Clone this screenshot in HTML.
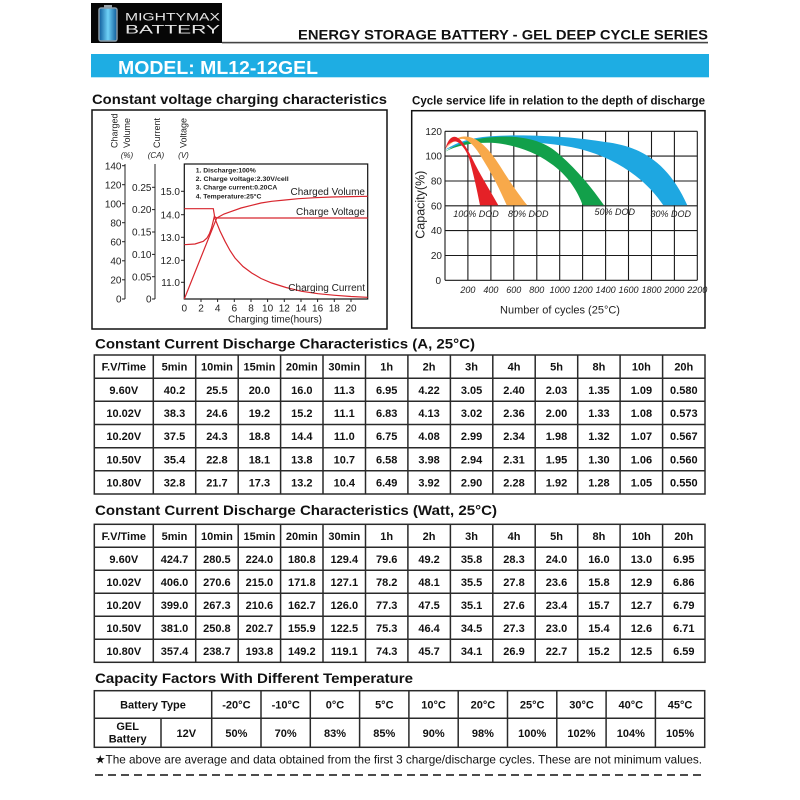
<!DOCTYPE html>
<html>
<head>
<meta charset="utf-8">
<style>
html,body{margin:0;padding:0;background:#fff;}
svg{display:block;}
</style>
</head>
<body>
<svg width="800" height="800" viewBox="0 0 800 800" xmlns="http://www.w3.org/2000/svg" font-family="'Liberation Sans', Arial, sans-serif">
<defs>
<linearGradient id="bg" x1="0" x2="1" y1="0" y2="0">
<stop offset="0" stop-color="#0d5a9a"/>
<stop offset="0.5" stop-color="#6fd2f8"/>
<stop offset="1" stop-color="#0d5a9a"/>
</linearGradient>
</defs>
<rect x="0" y="0" width="800" height="800" fill="#fff"/>

<!-- HEADER -->
<rect x="91" y="3" width="131" height="40" fill="#060606"/>
<rect x="104" y="5" width="8" height="3" fill="#9aa4aa"/>
<rect x="99" y="8" width="18" height="33" rx="2" fill="url(#bg)" stroke="#8a9aa5" stroke-width="1.5"/>
<text x="125" y="20.7" font-size="11" fill="#e6e6e6" textLength="95" lengthAdjust="spacingAndGlyphs">MIGHTYMAX</text>
<text x="125" y="33.5" font-size="11.5" fill="#e6e6e6" textLength="95" lengthAdjust="spacingAndGlyphs">BATTERY</text>
<text x="298" y="39.3" font-size="14" font-weight="bold" fill="#111" textLength="410" lengthAdjust="spacingAndGlyphs">ENERGY STORAGE BATTERY - GEL DEEP CYCLE SERIES</text>
<rect x="222" y="41.8" width="486" height="1.6" fill="#444"/>
<rect x="91" y="54" width="618" height="23.3" fill="#1eade3"/>
<text x="118" y="74" font-size="18" font-weight="bold" fill="#fff" textLength="200" lengthAdjust="spacingAndGlyphs">MODEL: ML12-12GEL</text>

<!-- LEFT CHART -->
<text x="92" y="104" font-size="14" font-weight="bold" fill="#111" textLength="295" lengthAdjust="spacingAndGlyphs">Constant voltage charging characteristics</text>
<rect x="92" y="110" width="295" height="219" fill="none" stroke="#111" stroke-width="1.5"/>
<g font-size="9" fill="#222">
<text transform="translate(117.5,148) rotate(-90)">Charged</text>
<text transform="translate(130,148) rotate(-90)">Volume</text>
<text transform="translate(160,148) rotate(-90)">Current</text>
<text transform="translate(186.5,148) rotate(-90)">Voltage</text>
</g>
<g font-size="8" font-style="italic" fill="#222" text-anchor="middle">
<text x="127" y="158">(%)</text>
<text x="156" y="158">(CA)</text>
<text x="183.5" y="158">(V)</text>
</g>
<g stroke="#222" stroke-width="1">
<line x1="125" y1="164" x2="125" y2="299"/>
<line x1="122" y1="165.7" x2="125" y2="165.7"/>
<line x1="122" y1="184.7" x2="125" y2="184.7"/>
<line x1="122" y1="203.7" x2="125" y2="203.7"/>
<line x1="122" y1="222.7" x2="125" y2="222.7"/>
<line x1="122" y1="241.7" x2="125" y2="241.7"/>
<line x1="122" y1="260.8" x2="125" y2="260.8"/>
<line x1="122" y1="279.8" x2="125" y2="279.8"/>
<line x1="122" y1="299" x2="125" y2="299"/>
<line x1="155" y1="164" x2="155" y2="299"/>
<line x1="152" y1="187.3" x2="155" y2="187.3"/>
<line x1="152" y1="209.6" x2="155" y2="209.6"/>
<line x1="152" y1="232" x2="155" y2="232"/>
<line x1="152" y1="254.4" x2="155" y2="254.4"/>
<line x1="152" y1="276.7" x2="155" y2="276.7"/>
<line x1="152" y1="299" x2="155" y2="299"/>
<line x1="181" y1="191.3" x2="184.3" y2="191.3"/>
<line x1="181" y1="214.7" x2="184.3" y2="214.7"/>
<line x1="181" y1="237.3" x2="184.3" y2="237.3"/>
<line x1="181" y1="260.3" x2="184.3" y2="260.3"/>
<line x1="181" y1="282.3" x2="184.3" y2="282.3"/>
</g>
<g font-size="10" fill="#222" text-anchor="end">
<text x="121.5" y="169.3">140</text>
<text x="121.5" y="188.3">120</text>
<text x="121.5" y="207.3">100</text>
<text x="121.5" y="226.3">80</text>
<text x="121.5" y="245.3">60</text>
<text x="121.5" y="264.4">40</text>
<text x="121.5" y="283.4">20</text>
<text x="121.5" y="302.6">0</text>
<text x="151.5" y="190.9">0.25</text>
<text x="151.5" y="213.2">0.20</text>
<text x="151.5" y="235.6">0.15</text>
<text x="151.5" y="258">0.10</text>
<text x="151.5" y="280.3">0.05</text>
<text x="151.5" y="302.6">0</text>
<text x="180" y="194.9">15.0</text>
<text x="180" y="218.3">14.0</text>
<text x="180" y="240.9">13.0</text>
<text x="180" y="263.9">12.0</text>
<text x="180" y="285.9">11.0</text>
</g>
<rect x="184.3" y="164" width="183.4" height="135" fill="none" stroke="#111" stroke-width="1.2"/>
<g stroke="#222" stroke-width="1">
<line x1="201" y1="299" x2="201" y2="302"/>
<line x1="217.6" y1="299" x2="217.6" y2="302"/>
<line x1="234.3" y1="299" x2="234.3" y2="302"/>
<line x1="251" y1="299" x2="251" y2="302"/>
<line x1="267.6" y1="299" x2="267.6" y2="302"/>
<line x1="284.3" y1="299" x2="284.3" y2="302"/>
<line x1="301" y1="299" x2="301" y2="302"/>
<line x1="317.6" y1="299" x2="317.6" y2="302"/>
<line x1="334.3" y1="299" x2="334.3" y2="302"/>
<line x1="351" y1="299" x2="351" y2="302"/>
</g>
<g font-size="10" fill="#222" text-anchor="middle">
<text x="184.3" y="311.5">0</text>
<text x="201" y="311.5">2</text>
<text x="217.6" y="311.5">4</text>
<text x="234.3" y="311.5">6</text>
<text x="251" y="311.5">8</text>
<text x="267.6" y="311.5">10</text>
<text x="284.3" y="311.5">12</text>
<text x="301" y="311.5">14</text>
<text x="317.6" y="311.5">16</text>
<text x="334.3" y="311.5">18</text>
<text x="351" y="311.5">20</text>
<text x="275" y="322.5">Charging time(hours)</text>
</g>
<g font-size="6.8" font-weight="bold" fill="#222">
<text x="195.7" y="172.5">1. Discharge:100%</text>
<text x="195.7" y="181.2" textLength="93" lengthAdjust="spacingAndGlyphs">2. Charge voltage:2.30V/cell</text>
<text x="195.7" y="189.6">3. Charge current:0.20CA</text>
<text x="195.7" y="198.6">4. Temperature:25°C</text>
</g>
<g fill="none" stroke="#d8262e" stroke-width="1.2">
<polyline points="184.3,208.7 213.3,208.7 215,218.7 220,231 225,241.3 230,250.5 235,258 243,266.5 251.7,273 261,278.5 271.7,283 286,287.5 301.7,291.3 318,293.7 335,295.3 351,296.5 367.7,297.3"/>
<polyline points="184.3,244.7 195,244 203.3,241.3 207,238 209.5,233.5 211.5,228 213,222 214.3,216.5 216.7,218 367.7,218"/>
<polyline points="184.3,299 216.7,218 224,214 231.7,211.3 241,208 251.7,205.3 261,203 271.7,201.3 285,200 298.3,198.7 315,197.7 331.7,197 350,196.6 367.7,196.3"/>
</g>
<g font-size="10" fill="#222" text-anchor="end">
<text x="365" y="194.8">Charged Volume</text>
<text x="365" y="214.8">Charge Voltage</text>
<text x="365" y="290.8">Charging Current</text>
</g>

<!-- RIGHT CHART -->
<text x="412" y="104.5" font-size="12" font-weight="bold" fill="#111" textLength="293" lengthAdjust="spacingAndGlyphs">Cycle service life in relation to the depth of discharge</text>
<rect x="411.7" y="110.7" width="293.3" height="217.3" fill="none" stroke="#111" stroke-width="1.5"/>
<g stroke="#1a1a1a" stroke-width="1.1">
<line x1="445" y1="131.3" x2="697.3" y2="131.3"/>
<line x1="445" y1="156.1" x2="697.3" y2="156.1"/>
<line x1="445" y1="181" x2="697.3" y2="181"/>
<line x1="445" y1="205.8" x2="697.3" y2="205.8"/>
<line x1="445" y1="230.6" x2="697.3" y2="230.6"/>
<line x1="445" y1="255.5" x2="697.3" y2="255.5"/>
<line x1="445" y1="280.3" x2="697.3" y2="280.3"/>
<line x1="445" y1="131.3" x2="445" y2="280.3"/>
<line x1="467.9" y1="131.3" x2="467.9" y2="280.3"/>
<line x1="490.9" y1="131.3" x2="490.9" y2="280.3"/>
<line x1="513.8" y1="131.3" x2="513.8" y2="280.3"/>
<line x1="536.8" y1="131.3" x2="536.8" y2="280.3"/>
<line x1="559.7" y1="131.3" x2="559.7" y2="280.3"/>
<line x1="582.6" y1="131.3" x2="582.6" y2="280.3"/>
<line x1="605.6" y1="131.3" x2="605.6" y2="280.3"/>
<line x1="628.5" y1="131.3" x2="628.5" y2="280.3"/>
<line x1="651.5" y1="131.3" x2="651.5" y2="280.3"/>
<line x1="674.4" y1="131.3" x2="674.4" y2="280.3"/>
<line x1="697.3" y1="131.3" x2="697.3" y2="280.3"/>
</g>
<path fill="#1ea7e1" d="M445,150 C458,141 475,136.5 500,135.7 C535,134.5 575,137 605,142 C640,146 668,162 687.3,205.3 L663.3,205.3 C645,178 615,158 580,149 C550,142 510,140.5 485,141.5 C470,142.5 455,146 445,150 Z"/>
<path fill="#12a04a" d="M445,151.7 C458,143 475,137.5 500,136.7 C525,136 545,141 560,155 C578,171 592,188 604,205.3 L582.7,205.3 C578,192 568,175 550,163 C535,152 515,145 495,143 C475,142 458,145 445,151.7 Z"/>
<path fill="#f8a94a" d="M445,150.5 C450,142 456,137 464,136.5 C478,136 490,150 500,166 C510,182 519,195 527.3,205.3 L506.7,205.3 C500,190 493,176 485,163 C478,151 472,142 464,139 C457,138 450,143 445,150.5 Z"/>
<path fill="#e52127" d="M445,150 C447,142 450,137 454,136.7 C460,136.5 466,146 472,158 C480,175 490,190 498.3,205.3 L480,205.3 C477,190 473,172 469,158 C466,150 461,143 456,141.5 C451,141 447,145 445,150 Z"/>
<g font-size="10" fill="#222" text-anchor="end">
<text x="442" y="134.8">120</text>
<text x="442" y="159.6">100</text>
<text x="442" y="184.5">80</text>
<text x="442" y="209.3">60</text>
<text x="442" y="234.1">40</text>
<text x="442" y="259">20</text>
<text x="441" y="284">0</text>
</g>
<g font-size="9" font-style="italic" fill="#222" text-anchor="middle">
<text x="467.9" y="293">200</text>
<text x="490.9" y="293">400</text>
<text x="513.8" y="293">600</text>
<text x="536.8" y="293">800</text>
<text x="559.7" y="293">1000</text>
<text x="582.6" y="293">1200</text>
<text x="605.6" y="293">1400</text>
<text x="628.5" y="293">1600</text>
<text x="651.5" y="293">1800</text>
<text x="674.4" y="293">2000</text>
<text x="697.3" y="293">2200</text>
</g>
<g font-size="9" font-style="italic" fill="#222" text-anchor="middle">
<text x="476" y="217">100% DOD</text>
<text x="528.3" y="217">80% DOD</text>
<text x="614.7" y="215">50% DOD</text>
<text x="670.8" y="217">30% DOD</text>
</g>
<text transform="translate(424.5,204.7) rotate(-90)" text-anchor="middle" font-size="12.5" fill="#222">Capacity(%)</text>
<text x="560" y="313.5" text-anchor="middle" font-size="11" fill="#222">Number of cycles (25°C)</text>

<!-- TABLE 1 -->
<text x="95" y="348.5" font-size="14" font-weight="bold" fill="#111" textLength="380" lengthAdjust="spacingAndGlyphs">Constant Current Discharge Characteristics (A, 25°C)</text>
<g stroke="#2a2a2a" stroke-width="1.5" fill="none">
<rect x="94.3" y="355" width="610.7" height="139"/>
<path d="M94.3 378.2H705M94.3 401.3H705M94.3 424.5H705M94.3 447.7H705M94.3 470.8H705
M153.3 355V494M195.7 355V494M238.2 355V494M280.6 355V494M323 355V494M365.5 355V494M407.9 355V494M450.4 355V494M492.8 355V494M535.2 355V494M577.7 355V494M620.1 355V494M662.6 355V494"/>
</g>
<g font-size="11" font-weight="bold" fill="#111" text-anchor="middle">
<text x="123.8" y="370.6">F.V/Time</text><text x="174.5" y="370.6">5min</text><text x="216.9" y="370.6">10min</text><text x="259.4" y="370.6">15min</text><text x="301.8" y="370.6">20min</text><text x="344.3" y="370.6">30min</text><text x="386.7" y="370.6">1h</text><text x="429.1" y="370.6">2h</text><text x="471.6" y="370.6">3h</text><text x="514" y="370.6">4h</text><text x="556.5" y="370.6">5h</text><text x="598.9" y="370.6">8h</text><text x="641.4" y="370.6">10h</text><text x="683.8" y="370.6">20h</text>

<text x="123.8" y="393.8">9.60V</text><text x="174.5" y="393.8">40.2</text><text x="216.9" y="393.8">25.5</text><text x="259.4" y="393.8">20.0</text><text x="301.8" y="393.8">16.0</text><text x="344.3" y="393.8">11.3</text><text x="386.7" y="393.8">6.95</text><text x="429.1" y="393.8">4.22</text><text x="471.6" y="393.8">3.05</text><text x="514" y="393.8">2.40</text><text x="556.5" y="393.8">2.03</text><text x="598.9" y="393.8">1.35</text><text x="641.4" y="393.8">1.09</text><text x="683.8" y="393.8">0.580</text>

<text x="123.8" y="416.9">10.02V</text><text x="174.5" y="416.9">38.3</text><text x="216.9" y="416.9">24.6</text><text x="259.4" y="416.9">19.2</text><text x="301.8" y="416.9">15.2</text><text x="344.3" y="416.9">11.1</text><text x="386.7" y="416.9">6.83</text><text x="429.1" y="416.9">4.13</text><text x="471.6" y="416.9">3.02</text><text x="514" y="416.9">2.36</text><text x="556.5" y="416.9">2.00</text><text x="598.9" y="416.9">1.33</text><text x="641.4" y="416.9">1.08</text><text x="683.8" y="416.9">0.573</text>

<text x="123.8" y="440.1">10.20V</text><text x="174.5" y="440.1">37.5</text><text x="216.9" y="440.1">24.3</text><text x="259.4" y="440.1">18.8</text><text x="301.8" y="440.1">14.4</text><text x="344.3" y="440.1">11.0</text><text x="386.7" y="440.1">6.75</text><text x="429.1" y="440.1">4.08</text><text x="471.6" y="440.1">2.99</text><text x="514" y="440.1">2.34</text><text x="556.5" y="440.1">1.98</text><text x="598.9" y="440.1">1.32</text><text x="641.4" y="440.1">1.07</text><text x="683.8" y="440.1">0.567</text>

<text x="123.8" y="463.3">10.50V</text><text x="174.5" y="463.3">35.4</text><text x="216.9" y="463.3">22.8</text><text x="259.4" y="463.3">18.1</text><text x="301.8" y="463.3">13.8</text><text x="344.3" y="463.3">10.7</text><text x="386.7" y="463.3">6.58</text><text x="429.1" y="463.3">3.98</text><text x="471.6" y="463.3">2.94</text><text x="514" y="463.3">2.31</text><text x="556.5" y="463.3">1.95</text><text x="598.9" y="463.3">1.30</text><text x="641.4" y="463.3">1.06</text><text x="683.8" y="463.3">0.560</text>

<text x="123.8" y="486.4">10.80V</text><text x="174.5" y="486.4">32.8</text><text x="216.9" y="486.4">21.7</text><text x="259.4" y="486.4">17.3</text><text x="301.8" y="486.4">13.2</text><text x="344.3" y="486.4">10.4</text><text x="386.7" y="486.4">6.49</text><text x="429.1" y="486.4">3.92</text><text x="471.6" y="486.4">2.90</text><text x="514" y="486.4">2.28</text><text x="556.5" y="486.4">1.92</text><text x="598.9" y="486.4">1.28</text><text x="641.4" y="486.4">1.05</text><text x="683.8" y="486.4">0.550</text>
</g>

<!-- TABLE 2 -->
<text x="95" y="515" font-size="14" font-weight="bold" fill="#111" textLength="402" lengthAdjust="spacingAndGlyphs">Constant Current Discharge Characteristics (Watt, 25°C)</text>
<g stroke="#2a2a2a" stroke-width="1.5" fill="none">
<rect x="94.3" y="524.3" width="610.7" height="138"/>
<path d="M94.3 547.3H705M94.3 570.3H705M94.3 593.3H705M94.3 616.3H705M94.3 639.3H705
M153.3 524.3V662.3M195.7 524.3V662.3M238.2 524.3V662.3M280.6 524.3V662.3M323 524.3V662.3M365.5 524.3V662.3M407.9 524.3V662.3M450.4 524.3V662.3M492.8 524.3V662.3M535.2 524.3V662.3M577.7 524.3V662.3M620.1 524.3V662.3M662.6 524.3V662.3"/>
</g>
<g font-size="11" font-weight="bold" fill="#111" text-anchor="middle">
<text x="123.8" y="539.8">F.V/Time</text><text x="174.5" y="539.8">5min</text><text x="216.9" y="539.8">10min</text><text x="259.4" y="539.8">15min</text><text x="301.8" y="539.8">20min</text><text x="344.3" y="539.8">30min</text><text x="386.7" y="539.8">1h</text><text x="429.1" y="539.8">2h</text><text x="471.6" y="539.8">3h</text><text x="514" y="539.8">4h</text><text x="556.5" y="539.8">5h</text><text x="598.9" y="539.8">8h</text><text x="641.4" y="539.8">10h</text><text x="683.8" y="539.8">20h</text>

<text x="123.8" y="562.8">9.60V</text><text x="174.5" y="562.8">424.7</text><text x="216.9" y="562.8">280.5</text><text x="259.4" y="562.8">224.0</text><text x="301.8" y="562.8">180.8</text><text x="344.3" y="562.8">129.4</text><text x="386.7" y="562.8">79.6</text><text x="429.1" y="562.8">49.2</text><text x="471.6" y="562.8">35.8</text><text x="514" y="562.8">28.3</text><text x="556.5" y="562.8">24.0</text><text x="598.9" y="562.8">16.0</text><text x="641.4" y="562.8">13.0</text><text x="683.8" y="562.8">6.95</text>

<text x="123.8" y="585.8">10.02V</text><text x="174.5" y="585.8">406.0</text><text x="216.9" y="585.8">270.6</text><text x="259.4" y="585.8">215.0</text><text x="301.8" y="585.8">171.8</text><text x="344.3" y="585.8">127.1</text><text x="386.7" y="585.8">78.2</text><text x="429.1" y="585.8">48.1</text><text x="471.6" y="585.8">35.5</text><text x="514" y="585.8">27.8</text><text x="556.5" y="585.8">23.6</text><text x="598.9" y="585.8">15.8</text><text x="641.4" y="585.8">12.9</text><text x="683.8" y="585.8">6.86</text>

<text x="123.8" y="608.8">10.20V</text><text x="174.5" y="608.8">399.0</text><text x="216.9" y="608.8">267.3</text><text x="259.4" y="608.8">210.6</text><text x="301.8" y="608.8">162.7</text><text x="344.3" y="608.8">126.0</text><text x="386.7" y="608.8">77.3</text><text x="429.1" y="608.8">47.5</text><text x="471.6" y="608.8">35.1</text><text x="514" y="608.8">27.6</text><text x="556.5" y="608.8">23.4</text><text x="598.9" y="608.8">15.7</text><text x="641.4" y="608.8">12.7</text><text x="683.8" y="608.8">6.79</text>

<text x="123.8" y="631.8">10.50V</text><text x="174.5" y="631.8">381.0</text><text x="216.9" y="631.8">250.8</text><text x="259.4" y="631.8">202.7</text><text x="301.8" y="631.8">155.9</text><text x="344.3" y="631.8">122.5</text><text x="386.7" y="631.8">75.3</text><text x="429.1" y="631.8">46.4</text><text x="471.6" y="631.8">34.5</text><text x="514" y="631.8">27.3</text><text x="556.5" y="631.8">23.0</text><text x="598.9" y="631.8">15.4</text><text x="641.4" y="631.8">12.6</text><text x="683.8" y="631.8">6.71</text>

<text x="123.8" y="654.8">10.80V</text><text x="174.5" y="654.8">357.4</text><text x="216.9" y="654.8">238.7</text><text x="259.4" y="654.8">193.8</text><text x="301.8" y="654.8">149.2</text><text x="344.3" y="654.8">119.1</text><text x="386.7" y="654.8">74.3</text><text x="429.1" y="654.8">45.7</text><text x="471.6" y="654.8">34.1</text><text x="514" y="654.8">26.9</text><text x="556.5" y="654.8">22.7</text><text x="598.9" y="654.8">15.2</text><text x="641.4" y="654.8">12.5</text><text x="683.8" y="654.8">6.59</text>
</g>

<!-- TABLE 3 -->
<text x="95" y="683" font-size="14" font-weight="bold" fill="#111" textLength="318" lengthAdjust="spacingAndGlyphs">Capacity Factors With Different Temperature</text>
<g stroke="#2a2a2a" stroke-width="1.5" fill="none">
<rect x="94.3" y="690.7" width="610.4" height="56.6"/>
<path d="M94.3 718.3H704.7M161 718.3V747.3M211.7 690.7V747.3M261 690.7V747.3M310.3 690.7V747.3M359.6 690.7V747.3M408.9 690.7V747.3M458.2 690.7V747.3M507.5 690.7V747.3M556.8 690.7V747.3M606.1 690.7V747.3M655.4 690.7V747.3"/>
</g>
<g font-size="11" font-weight="bold" fill="#111" text-anchor="middle">
<text x="153" y="708.5">Battery Type</text>
<text x="236.4" y="708.5">-20°C</text>
<text x="285.7" y="708.5">-10°C</text>
<text x="335" y="708.5">0°C</text>
<text x="384.3" y="708.5">5°C</text>
<text x="433.6" y="708.5">10°C</text>
<text x="482.9" y="708.5">20°C</text>
<text x="532.2" y="708.5">25°C</text>
<text x="581.5" y="708.5">30°C</text>
<text x="630.8" y="708.5">40°C</text>
<text x="680.1" y="708.5">45°C</text>
<text x="127.7" y="730">GEL</text>
<text x="127.7" y="742.3">Battery</text>
<text x="186.3" y="736.8">12V</text>
<text x="236.4" y="736.8">50%</text>
<text x="285.7" y="736.8">70%</text>
<text x="335" y="736.8">83%</text>
<text x="384.3" y="736.8">85%</text>
<text x="433.6" y="736.8">90%</text>
<text x="482.9" y="736.8">98%</text>
<text x="532.2" y="736.8">100%</text>
<text x="581.5" y="736.8">102%</text>
<text x="630.8" y="736.8">104%</text>
<text x="680.1" y="736.8">105%</text>
</g>

<!-- FOOTNOTE -->
<text x="95" y="763.5" font-size="12" fill="#111" textLength="607" lengthAdjust="spacingAndGlyphs">★The above are average and data obtained from the first 3 charge/discharge cycles. These are not minimum values.</text>
<line x1="95" y1="775" x2="705" y2="775" stroke="#333" stroke-width="1.8" stroke-dasharray="8 5"/>
</svg>
</body>
</html>
